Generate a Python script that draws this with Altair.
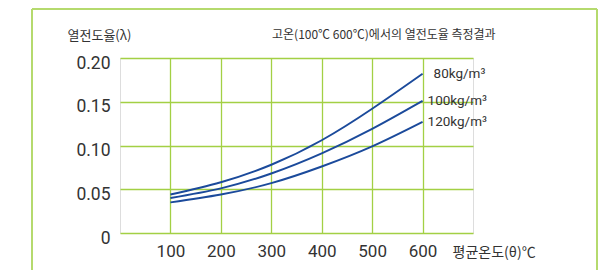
import altair as alt
import pandas as pd

# ---- data ----
temps = [100, 200, 300, 400, 500, 600]
k80 = [0.044, 0.058, 0.078, 0.106, 0.142, 0.182]
k100 = [0.040, 0.051, 0.068, 0.091, 0.119, 0.151]
k120 = [0.035, 0.044, 0.057, 0.076, 0.099, 0.127]
series_names = ["80kg/m³", "100kg/m³", "120kg/m³"]
x_ticks = [100, 200, 300, 400, 500, 600]
y_ticks = [0, 0.05, 0.10, 0.15, 0.20]
y_title = "열전도율(λ)"
x_title = "평균온도(θ)℃"
subtitle = "고온(100℃ 600℃)에서의 열전도율 측정결과"

rows = []
for name, vals in zip(series_names, [k80, k100, k120]):
    for t, v in zip(temps, vals):
        rows.append({"series": name, "temp": t, "k": v})
df = pd.DataFrame(rows)

NARROW = "Roboto"
KR = "Noto Sans CJK KR"
GRID = "#a3d044"
BORDER = "#b5da6e"
LINE = "#1b4a9b"
TXT = "#333333"

W, H = 353, 175

x_scale = alt.Scale(domain=[0, 700], nice=False, zero=True)
y_scale = alt.Scale(domain=[0, 0.2], nice=False)

lines = alt.Chart(df).mark_line(color=LINE, strokeWidth=1.9, interpolate="natural").encode(
    x=alt.X("temp:Q", scale=x_scale,
            axis=alt.Axis(values=x_ticks, title=x_title, titleX=332, titleY=19,
                          titleAlign="left", titleBaseline="middle", titleAngle=0,
                          titleFont=KR, titleFontSize=14, titleFontWeight="normal",
                          titleColor=TXT, labelFont=NARROW, labelFontSize=17,
                          labelColor=TXT, labelPadding=10, ticks=False, domain=False,
                          grid=True, gridColor=GRID, gridWidth=1.3, gridOpacity=1)),
    y=alt.Y("k:Q", scale=y_scale,
            axis=alt.Axis(values=y_ticks, title=y_title, titleX=-53, titleY=-23,
                          titleAlign="left", titleBaseline="middle", titleAngle=0,
                          titleFont=KR, titleFontSize=13, titleFontWeight="normal",
                          titleColor=TXT, labelFont=NARROW, labelFontSize=17.5,
                          labelColor=TXT, labelPadding=10, labelOffset=5,
                          labelExpr="datum.value == 0 ? '0' : format(datum.value, '.2f')",
                          ticks=False, domain=False, grid=True, gridColor=GRID,
                          gridWidth=1.3, gridOpacity=1)),
    detail="series:N",
)

label_dx = {"80kg/m³": 11, "100kg/m³": 5, "120kg/m³": 5}
layers = [lines]
for name, vals in zip(series_names, [k80, k100, k120]):
    ldf = pd.DataFrame([{"series": name, "temp": temps[-1], "k": vals[-1]}])
    layers.append(
        alt.Chart(ldf).mark_text(align="left", baseline="middle", dx=label_dx[name],
                                 font=NARROW, fontSize=13.5, color=TXT).encode(
            x=alt.X("temp:Q", scale=x_scale), y=alt.Y("k:Q", scale=y_scale), text="series:N")
    )

ann = pd.DataFrame([{"t": subtitle}])
layers.append(
    alt.Chart(ann).mark_text(align="left", baseline="middle", font=KR, fontSize=12,
                             color=TXT).encode(
        x=alt.value(152), y=alt.value(-23), text="t:N")
)

# outer frame
frame = pd.DataFrame([{"a": 1}])
layers.append(alt.Chart(frame).mark_rule(color=BORDER, strokeWidth=2).encode(
    x=alt.value(-88), y=alt.value(-49), y2=alt.value(320)))
layers.append(alt.Chart(frame).mark_rule(color=BORDER, strokeWidth=2).encode(
    x=alt.value(477), y=alt.value(-49), y2=alt.value(320)))
layers.append(alt.Chart(frame).mark_rule(color=BORDER, strokeWidth=2).encode(
    x=alt.value(-88), x2=alt.value(477), y=alt.value(-49)))

chart = alt.layer(*layers).properties(
    width=W, height=H,
    autosize=alt.AutoSizeParams(type="none"),
    padding={"left": 112, "top": 50, "right": 133, "bottom": 60},
).configure_view(
    fill="#edf5df", stroke=GRID, strokeWidth=1.3
).configure(background="white")

chart.save("out.html", embed_options={"renderer": "svg", "actions": False})
